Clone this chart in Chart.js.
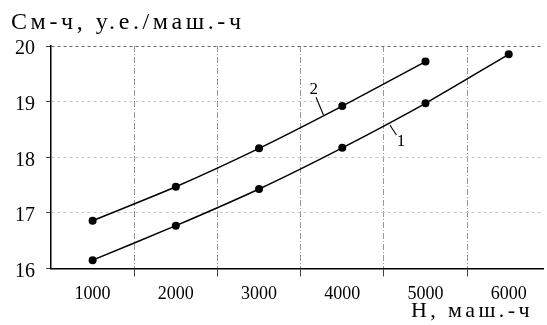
<!DOCTYPE html>
<html><head><meta charset="utf-8">
<script src="https://cdn.jsdelivr.net/npm/chart.js@4/dist/chart.umd.min.js"></script>
<style>
html,body{margin:0;padding:0;background:#fff;overflow:hidden;}
#wrap{position:relative;width:547px;height:325px;}
canvas{position:absolute;left:0;top:0;}
.lbl{position:absolute;font-family:"Liberation Serif",serif;color:#000;line-height:1;white-space:nowrap;}
</style></head><body>
<div id="wrap"><canvas id="c" width="547" height="325"></canvas>
<div class="lbl" style="left:11px;top:8.9px;font-size:24px;letter-spacing:3.6px">См-ч, у.е./маш.-ч</div>
<div class="lbl" style="left:411px;top:299.3px;font-size:22px;letter-spacing:3.4px">Н, маш.-ч</div>
</div>
<script>
const hours = [1000, 2000, 3000, 4000, 5000, 6000];
const series1 = [16.15, 16.77, 17.43, 18.17, 18.97, 19.85];
const series2 = [16.86, 17.47, 18.16, 18.92, 19.72];
const xTickValues = [1000, 1500, 2000, 2500, 3000, 3500, 4000, 4500, 5000, 5500, 6000];
const yTickValues = [16, 17, 18, 19, 20];
const curveLabels = ['1', '2'];
// label position and leader line (data coordinates) for each curve
const labelPos = [[4707, 18.29], [3658, 19.21]];
const leaderFrom = [[4572, 18.58], [3685, 19.08]];
const leaderTo = [[4651, 18.40], [3774, 18.76]];

const toPts = (ys) => ys.map((y, i) => ({x: hours[i], y}));

const curveLabelPlugin = {
  id: 'curveLabels',
  afterDatasetsDraw(chart) {
    const {ctx, scales: {x, y}} = chart;
    ctx.save();
    ctx.strokeStyle = '#000';
    ctx.lineWidth = 1.1;
    ctx.fillStyle = '#000';
    ctx.font = '17px "Liberation Serif"';
    ctx.textAlign = 'center';
    ctx.textBaseline = 'middle';
    curveLabels.forEach((t, i) => {
      ctx.beginPath();
      ctx.moveTo(x.getPixelForValue(leaderFrom[i][0]), y.getPixelForValue(leaderFrom[i][1]));
      ctx.lineTo(x.getPixelForValue(leaderTo[i][0]), y.getPixelForValue(leaderTo[i][1]));
      ctx.stroke();
      ctx.fillText(t, x.getPixelForValue(labelPos[i][0]), y.getPixelForValue(labelPos[i][1]));
    });
    ctx.restore();
  }
};

const ds = (ys) => ({
  data: toPts(ys),
  borderColor: '#000',
  backgroundColor: '#000',
  borderWidth: 1.5,
  pointRadius: 4,
  pointHoverRadius: 4,
  pointBorderWidth: 0,
  tension: 0.25,
  fill: false
});

new Chart(document.getElementById('c'), {
  type: 'line',
  data: {datasets: [ds(series1), ds(series2)]},
  plugins: [curveLabelPlugin],
  options: {
    responsive: false,
    animation: false,
    devicePixelRatio: 1,
    layout: {padding: {left: 0, right: 0, top: 46, bottom: 0}},
    plugins: {legend: {display: false}, tooltip: {enabled: false}, title: {display: false}},
    scales: {
      x: {
        type: 'linear',
        min: 500,
        max: 6412,
        afterBuildTicks: (s) => { s.ticks = xTickValues.map(v => ({value: v})); },
        afterFit: (s) => { s.height = 56.5; },
        ticks: {
          font: {family: '"Liberation Serif"', size: 18},
          color: '#000',
          padding: 7,
          maxRotation: 0,
          autoSkip: false,
          callback: (v) => (v % 1000 === 0 ? String(v) : '')
        },
        grid: {
          color: (c) => (c.tick && c.tick.value % 1000 === 0 ? 'rgba(0,0,0,0)' : '#999'),
          tickColor: (c) => (c.tick && c.tick.value % 1000 === 0 ? 'rgba(0,0,0,0)' : '#444'),
          lineWidth: 1,
          tickLength: 8,
          tickBorderDash: []
        },
        border: {display: true, color: '#000', width: 1.5, dash: [6, 2, 1, 2]}
      },
      y: {
        min: 16,
        max: 20,
        afterBuildTicks: (s) => { s.ticks = yTickValues.map(v => ({value: v})); },
        afterFit: (s) => { s.width = 51; },
        ticks: {
          font: {family: '"Liberation Serif"', size: 20},
          color: '#000',
          padding: 11,
          labelOffset: 3
        },
        grid: {
          color: (c) => (c.tick && c.tick.value === 16 ? 'rgba(0,0,0,0)' : (c.tick && c.tick.value === 20 ? '#666' : '#c8c8c8')),
          tickColor: '#444',
          lineWidth: 1,
          tickLength: 5,
          tickBorderDash: []
        },
        border: {display: true, color: '#000', width: 1.5, dash: [3, 3]}
      }
    }
  }
});
</script>
</body></html>
